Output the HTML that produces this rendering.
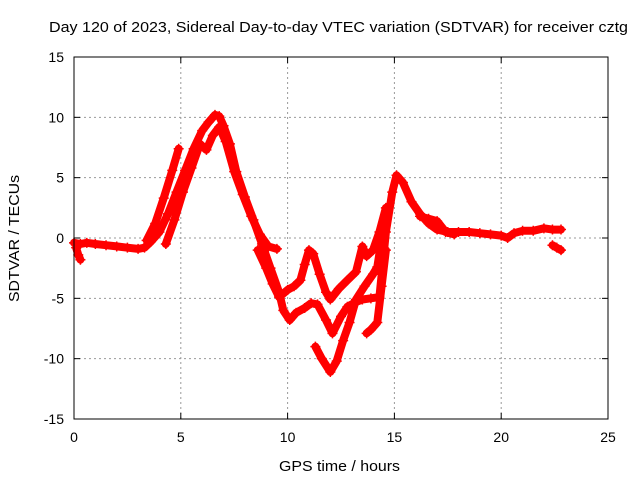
<!DOCTYPE html>
<html><head><meta charset="utf-8"><style>
body{margin:0;background:#fff}
svg{display:block;font-family:"Liberation Sans",sans-serif}
</style></head><body>
<svg id="chart" width="640" height="480" xmlns="http://www.w3.org/2000/svg">
<rect width="640" height="480" fill="#fff"/>
<text x="49" y="32" font-size="14.5" textLength="579" lengthAdjust="spacingAndGlyphs">Day 120 of 2023, Sidereal Day-to-day VTEC variation (SDTVAR) for receiver cztg</text>
<g id="grid"></g>
<g id="series"></g>
<rect x="74" y="57" width="534" height="362" fill="none" stroke="#000" stroke-width="1"/>
<g id="ticks"></g>
<text x="279" y="471" font-size="14.5" textLength="121" lengthAdjust="spacingAndGlyphs">GPS time / hours</text>
<text transform="translate(19,302) rotate(-90)" font-size="14.5" textLength="127" lengthAdjust="spacingAndGlyphs">SDTVAR / TECUs</text>
</svg>
<script>
const xTicks=[0,5,10,15,20,25];
const yTicks=[-15,-10,-5,0,5,10,15];
const s1h=[0,0.3,0.6,1,1.5,2,2.5,3,3.3,3.6,4,4.4,4.8,5.2,5.6,6,6.3,6.6,6.8,7,7.3,7.6,8,8.4,8.8,9.2,9.6,9.8,10.1,10.4,10.8,11.1,11.4,11.8,12.1,12.5,12.8,13.2,13.5,13.9,14.3,14.6,14.9,15.1,15.4,15.8,16.2,16.6,17,17.5,18,18.5,19,19.5,20,20.3,20.6,21,21.5,22,22.4,22.8];
const s1v=[-0.4,-0.5,-0.4,-0.5,-0.6,-0.7,-0.8,-0.9,-0.8,-0.3,0.5,2,3.8,5.6,7.4,8.9,9.6,10.2,10.1,9.3,7.8,5.5,3.4,1.5,-0.5,-2.5,-4.5,-6,-6.8,-6.2,-5.8,-5.4,-5.5,-6.8,-7.9,-6.5,-5.7,-5.3,-5.1,-5,-4.9,0.5,3.8,5.2,4.6,3,2,1.2,0.7,0.5,0.5,0.5,0.4,0.3,0.2,0,0.4,0.6,0.6,0.8,0.7,0.7];
const s2h=[3.4,3.8,4.2,4.6,4.9];
const s2v=[-0.2,1.2,3.3,5.6,7.4];
const s2bh=[4.3,4.7,5.1,5.5,5.9,6.2,6.5,6.8,7.1,7.5,7.9,8.3,8.7,9.1,9.5];
const s2bv=[-0.5,1.5,3.8,5.8,7.8,7.3,8.5,9.2,8,5.5,3.6,1.8,0.3,-0.7,-0.9];
const s3h=[8.6,9,9.3,9.6,10,10.3,10.6,10.8,11,11.2,11.5,11.8,12,12.4,12.8,13.2,13.5,13.7,14,14.3,14.6];
const s3v=[-1,-2.5,-3.8,-4.9,-4.3,-4,-3.5,-2.2,-1,-1.3,-3,-4.5,-5.1,-4.2,-3.5,-2.8,-0.7,-1.5,-1,0.5,2.5];
const s4h=[11.3,11.6,12,12.3,12.6,12.9,13.2,13.6,14,14.2,14.5];
const s4v=[-9,-10,-11.1,-10.2,-8.5,-7,-5.1,-4,-3,-2.4,1];
const s5h=[13.7,13.9,14.2,14.4,14.6];
const s5v=[-7.9,-7.6,-7,-4,-1];
const s6h=[16.2,16.6,17,17.4,17.8];
const s6v=[1.8,1.6,1.4,0.5,0.3];
const s7h=[22.4,22.6,22.8];
const s7v=[-0.6,-0.8,-1];
const s8h=[0.1,0.2,0.3];
const s8v=[-0.8,-1.4,-1.8];
const X0=74,X1=608,Y0=419,Y1=57;
function xs(h){return X0+(h-0)/25*(X1-X0);}
function ys(v){return Y0-(v+15)/30*(Y0-Y1);}
const NS="http://www.w3.org/2000/svg";
const grid=document.getElementById('grid'),ticks=document.getElementById('ticks'),ser=document.getElementById('series');
function mk(t,a,p){const e=document.createElementNS(NS,t);for(const k in a)e.setAttribute(k,a[k]);p.appendChild(e);return e;}
xTicks.forEach(t=>{const x=xs(t);
 if(t>0&&t<25){const g=mk('line',{x1:x,x2:x,y1:Y1,y2:Y0,stroke:'#999','stroke-dasharray':'2,3'},grid);
 
 }
 const a=mk('line',{x1:x,x2:x,y1:Y0,y2:Y0-6,stroke:'#000'},ticks);
 
 
 const b=mk('line',{x1:x,x2:x,y1:Y1,y2:Y1+6,stroke:'#000'},ticks);
 
 
 const l=mk('text',{x:x,y:442,'font-size':14,'text-anchor':'middle'},ticks);l.textContent=t;
 
 
});
yTicks.forEach(t=>{const y=ys(t);
 if(t>-15&&t<15){const g=mk('line',{x1:X0,x2:X1,y1:y,y2:y,stroke:'#999','stroke-dasharray':'2,3'},grid);
 
 }
 const a=mk('line',{x1:X0,x2:X0+6,y1:y,y2:y,stroke:'#000'},ticks);
 
 
 const b=mk('line',{x1:X1,x2:X1-6,y1:y,y2:y,stroke:'#000'},ticks);
 
 
 const l=mk('text',{x:64,y:y+5,'font-size':14,'text-anchor':'end'},ticks);l.textContent=t;
 
 
});
const all=[[s1h,s1v],[s2h,s2v],[s2bh,s2bv],[s3h,s3v],[s4h,s4v],[s5h,s5v],[s6h,s6v],[s7h,s7v],[s8h,s8v]];
all.forEach((s,i)=>{
 const pts=s[0].map((h,j)=>xs(h).toFixed(1)+','+ys(s[1][j]).toFixed(1)).join(' ');
 const pl=mk('polyline',{points:pts,fill:'none',stroke:'#f00','stroke-width':8,'stroke-linejoin':'round','stroke-linecap':'round'},ser);
 
 
 s[0].forEach((h,j)=>{const x=xs(h),y=ys(s[1][j]);
  const p=mk('path',{d:`M${x-5},${y}h10M${x},${y-5}v10`,stroke:'#f00','stroke-width':1.5},ser);
  
  
 });
});
</script>
</body></html>
